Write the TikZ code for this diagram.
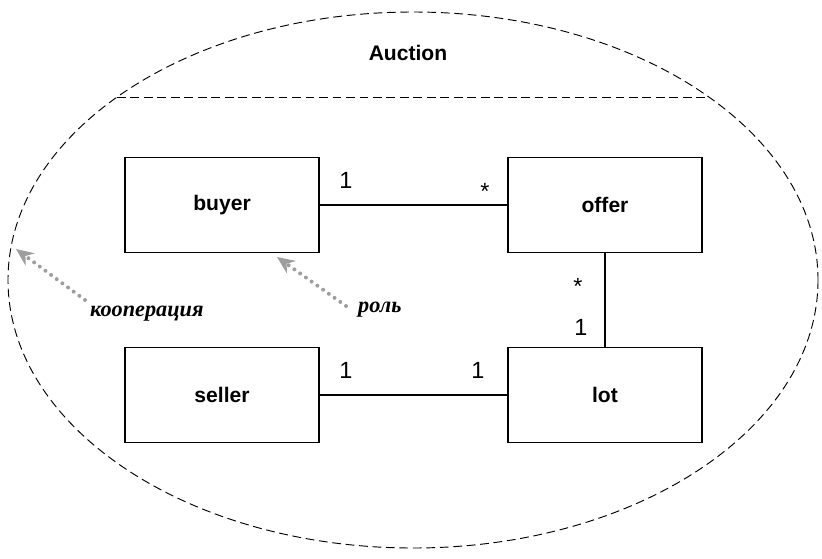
\documentclass[tikz,border=0pt]{standalone}
\usepackage{fontspec}
\setmainfont{Liberation Sans}
\newfontfamily\handfont{Liberation Serif}
\usetikzlibrary{arrows.meta}

\begin{document}
\begin{tikzpicture}[x=0.03cm, y=-0.03cm,
        class/.style={rectangle, draw, line width=0.9pt, minimum width=194*0.03cm, minimum height=95*0.03cm, font=\fontsize{18}{20}\selectfont\bfseries},
        mult/.style={font=\fontsize{20}{22}\selectfont},
        hint/.style={font=\handfont\fontsize{19}{22}\selectfont\itshape\bfseries},
        pointer/.style={black!38, line width=3.4pt, line cap=round, dash pattern=on 0pt off 6pt, -{Stealth[length=15pt, width=13pt, inset=5pt]}},
        border/.style={dash pattern=on 7.5pt off 4pt, line width=0.8pt}
    ]
    \useasboundingbox (0,0) rectangle (822,558);

    % collaboration
    \draw[border] (413,280) ellipse [x radius=405, y radius=268];
    \coordinate (cl) at (117,97);
    \coordinate (cr) at (709,97);
    \draw[border] (cl) -- (cr);
    \node[font=\fontsize{18}{20}\selectfont\bfseries] (auction) at (408,53) {Auction};

    % roles
    \node[class] (buyer) at (222,205) {buyer};
    \node[class] (offer) at (605,205) {offer};
    \node[class] (seller) at (222,395) {seller};
    \node[class] (lot) at (605,395) {lot};

    \draw[line width=0.9pt] (buyer) -- (offer);
    \draw[line width=0.9pt] (offer) -- (lot);
    \draw[line width=0.9pt] (seller) -- (lot);

    \node[mult] (m1) at (346,180) {1};
    \node[mult] (m2) at (485,191) {*};
    \node[mult] (m3) at (578,286) {*};
    \node[mult] (m4) at (581,327) {1};
    \node[mult] (m5) at (346,370) {1};
    \node[mult] (m6) at (478,370) {1};

    % notes
    \node[hint, anchor=west] (coop) at (86,314) {кооперация};
    \node[hint, anchor=west] (role) at (354,310) {роль};
    \coordinate (coopstart) at (85,300);
    \coordinate (coopend) at (16,249);
    \coordinate (rolestart) at (346,306);
    \coordinate (roleend) at (277,257);
    \draw[pointer] (coopstart) -- (coopend);
    \draw[pointer] (rolestart) -- (roleend);
\end{tikzpicture}
\end{document}
